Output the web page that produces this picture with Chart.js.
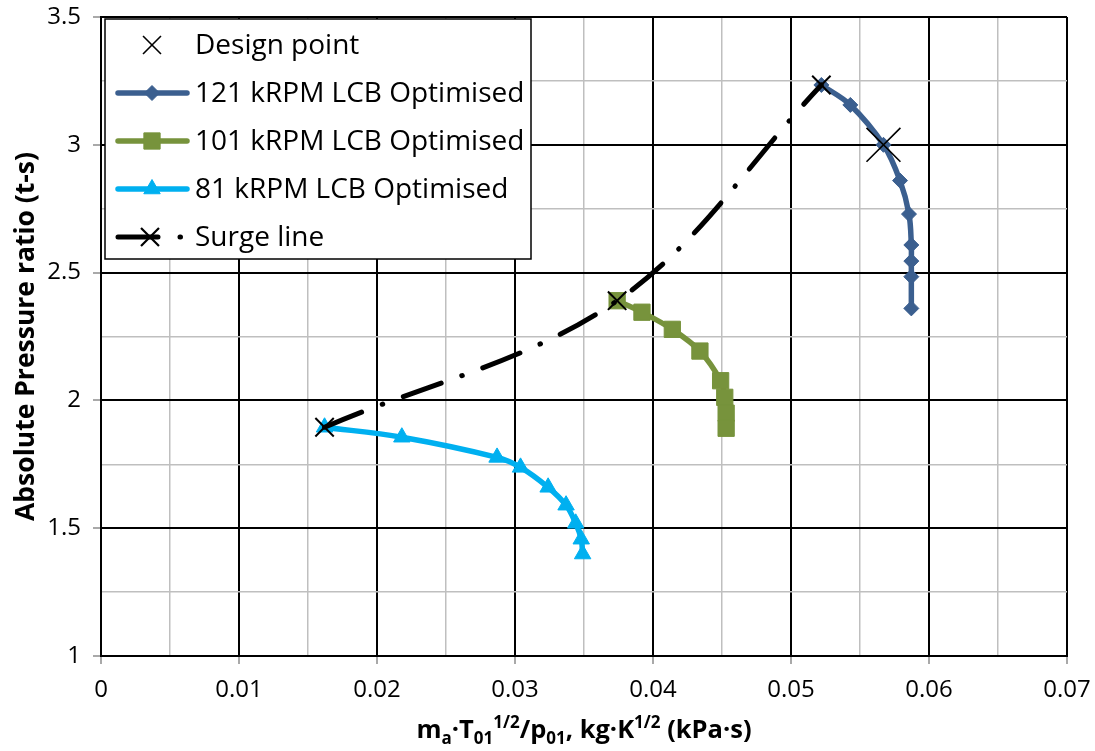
<!DOCTYPE html>
<html><head><meta charset="utf-8">
<script src="https://cdn.jsdelivr.net/npm/chart.js@4/dist/chart.umd.min.js"></script>
<style>html,body{margin:0;padding:0;background:#fff}#wrap{width:1095px;height:751px;position:relative}</style>
</head><body><div id="wrap"><canvas id="c" width="1095" height="751"></canvas></div>
<script>
// ---- data ----
const x121 = [0.0522, 0.0543, 0.0567, 0.0579, 0.05855, 0.05872, 0.05872, 0.05872, 0.05872];
const y121 = [3.234, 3.156, 3.0, 2.86, 2.729, 2.608, 2.545, 2.484, 2.36];
const x101 = [0.0374, 0.0392, 0.0414, 0.0434, 0.0449, 0.0452, 0.0453, 0.0453];
const y101 = [2.39, 2.345, 2.278, 2.193, 2.077, 2.012, 1.95, 1.891];
const x81  = [0.0162, 0.0218, 0.0287, 0.0304, 0.0324, 0.0337, 0.0344, 0.0348, 0.0349];
const y81  = [1.895, 1.856, 1.777, 1.738, 1.66, 1.59, 1.519, 1.457, 1.399];
const xSurge = [0.0162, 0.0374, 0.0522];
const ySurge = [1.895, 2.39, 3.234];
const xDesign = [0.0567];
const yDesign = [3.0];
const seriesNames = ['Design point', '121 kRPM LCB Optimised', '101 kRPM LCB Optimised', '81 kRPM LCB Optimised', 'Surge line'];
const xTickValues = [0,0.005,0.01,0.015,0.02,0.025,0.03,0.035,0.04,0.045,0.05,0.055,0.06,0.065,0.07];
const xTickLabels = ['0','','0.01','','0.02','','0.03','','0.04','','0.05','','0.06','','0.07'];
const yTickValues = [1,1.25,1.5,1.75,2,2.25,2.5,2.75,3,3.25,3.5];
const yTickLabels = ['1','','1.5','','2','','2.5','','3','','3.5'];
const yTitle = 'Absolute Pressure ratio (t-s)';
const xTitleParts = [['m','n'],['a','sub'],['·T','n'],['01','sub'],['1/2','sup'],['/p','n'],['01','sub'],[', kg·K','n'],['1/2','sup'],[' (kPa·s)','n']];

const C121 = '#3B5F8F', C101 = '#77933C', C81 = '#00B0F0';
const FONT = '"Open Sans", "DejaVu Sans", sans-serif';
const SURGE_DASH = [40, 22, 0.5, 22];

const pts = (xs, ys) => xs.map((x, i) => ({x, y: ys[i]}));

const datasets = [
  {label: seriesNames[0], data: pts(xDesign, yDesign), showLine: false, pointStyle: 'crossRot',
   pointRadius: 24, pointBorderColor: '#000', pointBorderWidth: 1.6, borderColor: '#000', order: 0},
  {label: seriesNames[4], data: pts(xSurge, ySurge), showLine: true, borderColor: '#000', borderWidth: 5,
   borderDash: SURGE_DASH, borderCapStyle: 'round', tension: 0.35, pointStyle: 'crossRot', pointRadius: 13,
   pointBorderColor: '#000', pointBorderWidth: 2, order: 1},
  {label: seriesNames[1], data: pts(x121, y121), showLine: true, borderColor: C121, borderWidth: 5.5,
   borderCapStyle: 'round', borderJoinStyle: 'round', tension: 0.35, pointStyle: 'rectRot', pointRadius: 7.5,
   pointBackgroundColor: C121, pointBorderColor: C121, pointBorderWidth: 1, order: 2},
  {label: seriesNames[2], data: pts(x101, y101), showLine: true, borderColor: C101, borderWidth: 5.5,
   borderCapStyle: 'round', borderJoinStyle: 'round', tension: 0.35, pointStyle: 'rect', pointRadius: 11.5,
   pointBackgroundColor: C101, pointBorderColor: C101, pointBorderWidth: 1, order: 3},
  {label: seriesNames[3], data: pts(x81, y81), showLine: true, borderColor: C81, borderWidth: 5.5,
   borderCapStyle: 'round', borderJoinStyle: 'round', tension: 0.35, pointStyle: 'triangle', pointRadius: 9.5,
   pointBackgroundColor: C81, pointBorderColor: C81, pointBorderWidth: 1, order: 4}
];

// ---- legend drawn inside the plot (like Excel) ----
function drawMarker(ctx, style, x, y, r, color, bw) {
  ctx.save();
  ctx.setLineDash([]);
  ctx.fillStyle = color; ctx.strokeStyle = color; ctx.lineWidth = bw;
  ctx.beginPath();
  if (style === 'crossRot') {
    ctx.moveTo(x - r * 0.707, y - r * 0.707); ctx.lineTo(x + r * 0.707, y + r * 0.707);
    ctx.moveTo(x - r * 0.707, y + r * 0.707); ctx.lineTo(x + r * 0.707, y - r * 0.707);
    ctx.stroke();
  } else if (style === 'rectRot') {
    ctx.moveTo(x, y - r); ctx.lineTo(x + r, y); ctx.lineTo(x, y + r); ctx.lineTo(x - r, y); ctx.closePath();
    ctx.fill(); ctx.stroke();
  } else if (style === 'rect') {
    const s = r * 0.707; ctx.rect(x - s, y - s, 2 * s, 2 * s); ctx.fill(); ctx.stroke();
  } else if (style === 'triangle') {
    ctx.moveTo(x, y - r); ctx.lineTo(x + r * 0.866, y + r * 0.5); ctx.lineTo(x - r * 0.866, y + r * 0.5);
    ctx.closePath(); ctx.fill(); ctx.stroke();
  }
  ctx.restore();
}

const legendPlugin = {
  id: 'excelLegend',
  afterDatasetsDraw(chart) {
    const ctx = chart.ctx;
    const box = {x: 105, y: 19, w: 426, h: 240};
    ctx.save();
    ctx.fillStyle = '#fff';
    ctx.fillRect(box.x, box.y, box.w, box.h);
    ctx.strokeStyle = '#000'; ctx.lineWidth = 1.5;
    ctx.strokeRect(box.x, box.y, box.w, box.h);
    const order = [0, 2, 3, 4, 1];
    const rowY = [45, 93, 141, 189, 237];
    ctx.font = '28px ' + FONT;
    ctx.textBaseline = 'middle';
    order.forEach((di, k) => {
      const ds = chart.data.datasets[di];
      const y = rowY[k];
      if (ds.showLine) {
        ctx.save();
        ctx.strokeStyle = ds.borderColor; ctx.lineWidth = ds.borderWidth;
        ctx.lineCap = 'round';
        ctx.setLineDash(ds.borderDash || []);
        ctx.beginPath(); ctx.moveTo(118, y); ctx.lineTo(ds.borderDash ? 184 : 187, y); ctx.stroke();
        ctx.restore();
      }
      let mr = ds.pointRadius;
      if (di === 0 || di === 1) mr = 12.7;
      const mx = di === 1 ? 150 : 152;
      drawMarker(ctx, ds.pointStyle, mx, y, mr, ds.pointBorderColor, di === 1 ? 2.2 : (di === 0 ? 1.6 : 1));
      ctx.fillStyle = '#000';
      ctx.fillText(ds.label, 195, y + 1);
    });
    ctx.restore();
  }
};

// ---- x-axis title with subscripts / superscripts ----
let xTitlePartsWidths = [];
const xTitlePlugin = {
  id: 'xTitleRich',
  afterDraw(chart) {
    const ctx = chart.ctx;
    const area = chart.chartArea;
    const big = 'bold 25.5px ' + FONT, small = 'bold 17px ' + FONT;
    ctx.save();
    ctx.fillStyle = '#000';
    ctx.textBaseline = 'alphabetic';
    let total = 0;
    xTitlePartsWidths = xTitleParts.map(([t, s]) => { ctx.font = s === 'n' ? big : small; const w = ctx.measureText(t).width; total += w; return w; });
    let x = (area.left + area.right) / 2 - total / 2;
    const base = 738;
    xTitleParts.forEach(([t, s], i) => {
      ctx.font = s === 'n' ? big : small;
      const dy = s === 'sub' ? 6 : (s === 'sup' ? -10 : 0);
      ctx.fillText(t, x, base + dy);
      x += xTitlePartsWidths[i];
    });
    ctx.restore();
  }
};

const isMajor = (ctx) => ctx.index % 2 === 0;

new Chart(document.getElementById('c'), {
  type: 'scatter',
  data: {datasets},
  plugins: [legendPlugin, xTitlePlugin],
  options: {
    responsive: false,
    animation: false,
    devicePixelRatio: 1,
    layout: {autoPadding: false, padding: {top: 17, right: 28, left: 0, bottom: 0}},
    plugins: {legend: {display: false}, tooltip: {enabled: false}},
    scales: {
      x: {
        type: 'linear', min: 0, max: 0.07,
        afterBuildTicks: (s) => { s.ticks = xTickValues.map(v => ({value: v})); },
        afterFit: (s) => { s.height = 95; s.paddingLeft = 0; s.paddingRight = 0; },
        border: {display: true, color: '#000', width: 2},
        grid: {
          color: (c) => isMajor(c) ? '#000' : '#BFBFBF',
          lineWidth: (c) => isMajor(c) ? 2 : 1.5,
          tickColor: (c) => isMajor(c) ? '#8C8C8C' : 'rgba(0,0,0,0)',
          tickLength: 8, tickWidth: 1.5
        },
        ticks: {
          autoSkip: false, maxRotation: 0, padding: 12, color: '#000',
          font: {family: FONT, size: 24},
          callback: (v, i) => xTickLabels[i]
        },
        title: {display: false, text: 'ma·T01^1/2/p01, kg·K^1/2 (kPa·s)'}
      },
      y: {
        type: 'linear', min: 1, max: 3.5,
        afterBuildTicks: (s) => { s.ticks = yTickValues.map(v => ({value: v})); },
        afterFit: (s) => { s.width = 101; s.paddingTop = 0; s.paddingBottom = 0; },
        border: {display: true, color: '#000', width: 2},
        grid: {
          color: (c) => isMajor(c) ? '#000' : '#BFBFBF',
          lineWidth: (c) => isMajor(c) ? 2 : 1.5,
          tickColor: (c) => isMajor(c) ? '#8C8C8C' : 'rgba(0,0,0,0)',
          tickLength: 8, tickWidth: 1.5
        },
        ticks: {
          autoSkip: false, padding: 12, color: '#000',
          font: {family: FONT, size: 24},
          callback: (v, i) => yTickLabels[i]
        },
        title: {display: true, text: yTitle, color: '#000', font: {family: FONT, size: 26.5, weight: 'bold'}, padding: {top: 11, bottom: 0}}
      }
    }
  }
});
</script>
</body></html>
